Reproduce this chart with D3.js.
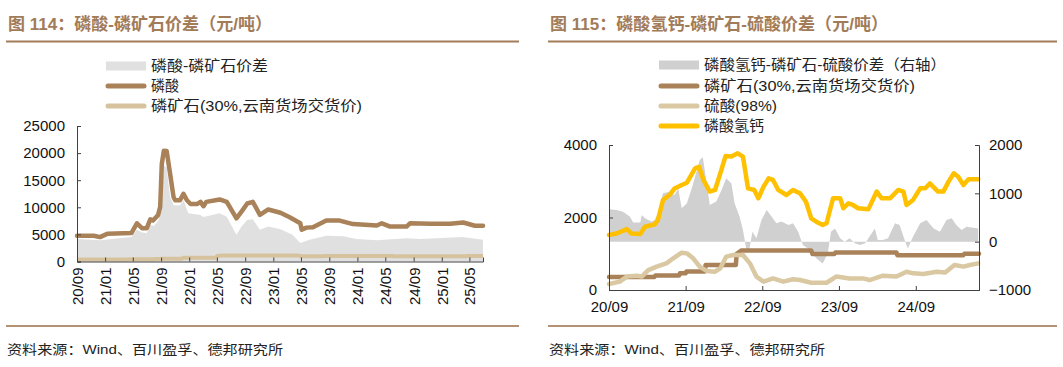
<!DOCTYPE html>
<html><head><meta charset="utf-8">
<script src="https://cdn.jsdelivr.net/npm/d3@7"></script>
<style>body{margin:0;background:#fff}svg{display:block}</style>
</head><body>
<svg id="c" width="1063" height="367"></svg>
<script>
// ---------- DATA ----------
const leftTitle = "图 114：磷酸-磷矿石价差（元/吨）";
const rightTitle = "图 115：磷酸氢钙-磷矿石-硫酸价差（元/吨）";
const sourceText = "资料来源：Wind、百川盈孚、德邦研究所";
const leftLegend = ["磷酸-磷矿石价差", "磷酸", "磷矿石(30%,云南货场交货价)"];
const rightLegend = ["磷酸氢钙-磷矿石-硫酸价差（右轴）", "磷矿石(30%,云南货场交货价)", "硫酸(98%)", "磷酸氢钙"];
const leftXTicks = ["20/09","21/01","21/05","21/09","22/01","22/05","22/09","23/01","23/05","23/09","24/01","24/05","24/09","25/01","25/05"];
const leftYTicks = [0, 5000, 10000, 15000, 20000, 25000];
const rightXTicks = ["20/09","21/09","22/09","23/09","24/09"];
const rightYTicksL = [0, 2000, 4000];
const rightYTicksR = [-1000, 0, 1000, 2000];

// 磷酸
const acid = [["2020-09-01",4750],["2020-11-13",4750],["2020-12-10",4500],["2021-01-10",5100],["2021-04-25",5250],["2021-05-19",7050],["2021-06-10",6150],["2021-07-01",6150],["2021-07-16",7800],["2021-07-28",7550],["2021-08-19",8600],["2021-08-28",10100],["2021-09-04",18000],["2021-09-13",20450],["2021-09-25",20400],["2021-10-10",16200],["2021-10-25",11900],["2021-11-01",11300],["2021-11-22",11300],["2021-12-07",12500],["2021-12-22",11300],["2022-01-07",10600],["2022-02-04",10600],["2022-02-19",11000],["2022-03-04",10200],["2022-03-16",11000],["2022-05-13",11450],["2022-06-13",11000],["2022-07-25",7950],["2022-08-16",9200],["2022-09-10",10700],["2022-10-04",11000],["2022-11-04",8600],["2022-12-10",9600],["2023-02-01",9000],["2023-03-13",8150],["2023-04-28",7050],["2023-05-04",5850],["2023-05-25",6250],["2023-06-22",6300],["2023-08-19",7550],["2023-10-16",7550],["2023-12-13",6900],["2024-03-25",6650],["2024-04-16",7050],["2024-05-22",6450],["2024-08-01",6450],["2024-08-16",7050],["2024-11-13",6950],["2025-02-07",6950],["2025-04-04",7200],["2025-05-25",6600],["2025-06-29",6600]];
// 磷酸-磷矿石价差
const acidSpread = [["2020-09-01",4150],["2020-12-10",3900],["2021-04-25",4500],["2021-05-19",5850],["2021-06-10",5350],["2021-07-01",5250],["2021-07-16",6750],["2021-08-01",6550],["2021-08-22",7650],["2021-09-04",13100],["2021-09-13",17700],["2021-09-25",17300],["2021-10-10",11900],["2021-10-25",10400],["2021-11-22",10400],["2021-12-07",11300],["2021-12-28",8900],["2022-02-19",8600],["2022-03-04",8200],["2022-05-13",8900],["2022-06-13",8250],["2022-07-25",4950],["2022-08-16",6450],["2022-09-10",7650],["2022-10-04",7800],["2022-11-04",5850],["2022-12-10",6450],["2023-02-01",5950],["2023-03-25",4950],["2023-04-28",3400],["2023-06-07",4000],["2023-08-19",4750],["2023-10-31",4650],["2023-12-28",4150],["2024-03-25",3900],["2024-07-31",4300],["2024-09-30",4150],["2025-03-31",4500],["2025-06-29",4000]];
// 磷矿石(30%,云南货场交货价)
const rock = [["2020-09-01",360],["2021-04-05",360],["2021-04-10",400],["2021-08-01",400],["2021-08-05",460],["2021-09-01",460],["2021-09-05",510],["2021-12-01",510],["2021-12-05",690],["2022-04-28",690],["2022-05-02",1000],["2022-05-25",1090],["2023-04-22",1090],["2023-04-28",990],["2023-08-10",990],["2023-08-15",1035],["2024-06-01",1035],["2024-06-05",960],["2025-04-15",960],["2025-04-20",1000],["2025-06-29",1000]];
// 硫酸(98%)
const sulfuric = [["2020-09-01",165],["2020-10-22",230],["2020-11-25",370],["2021-01-10",395],["2021-02-04",370],["2021-03-07",550],["2021-04-16",645],["2021-06-01",735],["2021-07-04",875],["2021-08-13",1030],["2021-09-07",1010],["2021-10-07",875],["2021-11-07",645],["2021-12-10",525],["2022-01-19",505],["2022-02-13",600],["2022-03-13",920],["2022-04-16",965],["2022-06-01",965],["2022-07-04",735],["2022-08-04",370],["2022-09-07",230],["2022-10-22",320],["2022-12-10",230],["2023-01-25",295],["2023-02-28",275],["2023-04-22",200],["2023-07-04",200],["2023-08-19",370],["2023-10-22",320],["2023-12-25",320],["2024-01-25",275],["2024-03-28",395],["2024-06-01",370],["2024-07-19",505],["2024-08-19",460],["2024-10-07",440],["2024-12-10",505],["2025-01-19",480],["2025-03-04",690],["2025-04-16",645],["2025-05-16",690],["2025-06-25",735]];
// 磷酸氢钙
const dcp = [["2020-09-01",1520],["2020-10-07",1560],["2020-11-25",1680],["2020-12-16",1560],["2021-01-28",1545],["2021-02-19",1745],["2021-04-07",1810],["2021-04-22",1930],["2021-05-16",2480],["2021-06-16",2620],["2021-07-10",2800],["2021-08-13",2895],["2021-09-07",2960],["2021-10-16",3355],["2021-11-04",3400],["2021-11-25",3035],["2021-12-25",2715],["2022-01-19",2760],["2022-02-18",3310],["2022-03-10",3695],["2022-04-07",3680],["2022-05-07",3770],["2022-06-01",3680],["2022-06-25",2805],["2022-07-25",2760],["2022-08-13",2530],["2022-09-07",2850],["2022-10-01",3080],["2022-10-22",3035],["2022-11-16",2760],["2022-12-25",2620],["2023-01-25",2760],["2023-02-28",2665],["2023-03-28",2435],["2023-04-22",1975],["2023-05-16",1885],["2023-06-16",1795],["2023-07-04",1840],["2023-08-04",2530],["2023-09-07",2530],["2023-09-22",2255],["2023-10-16",2390],["2023-11-07",2345],["2023-12-01",2255],["2024-01-19",2225],["2024-02-28",2715],["2024-03-22",2530],["2024-05-01",2530],["2024-06-10",2760],["2024-07-04",2715],["2024-07-19",2345],["2024-08-19",2485],["2024-09-22",2805],["2024-10-16",2805],["2024-11-07",2940],["2024-12-16",2715],["2025-01-10",2715],["2025-02-04",2990],["2025-03-01",3220],["2025-03-22",3125],["2025-04-16",2895],["2025-05-10",3055],["2025-06-25",3055]];
// 磷酸氢钙-磷矿石-硫酸价差（右轴）
const dcpSpread = [["2020-09-01",670],["2020-10-07",655],["2020-11-07",620],["2020-12-10",515],["2020-12-25",395],["2021-01-28",395],["2021-02-04",550],["2021-02-19",485],["2021-03-22",415],["2021-04-07",450],["2021-04-22",585],["2021-05-16",1000],["2021-06-16",1035],["2021-07-10",965],["2021-07-28",1100],["2021-08-13",690],["2021-09-07",795],["2021-10-07",1205],["2021-11-07",1690],["2021-11-22",1745],["2021-12-10",1205],["2021-12-25",760],["2022-01-25",830],["2022-02-19",1070],["2022-03-13",1310],["2022-04-07",1205],["2022-04-22",795],["2022-05-16",515],["2022-06-01",240],["2022-06-16",-140],["2022-07-01",-170],["2022-07-16",205],["2022-08-04",70],["2022-08-28",450],["2022-09-22",655],["2022-10-16",515],["2022-11-07",380],["2022-12-01",415],["2023-01-04",345],["2023-01-25",380],["2023-02-19",205],["2023-03-13",-70],["2023-04-16",-170],["2023-05-16",-345],["2023-06-16",-450],["2023-07-10",-240],["2023-07-25",205],["2023-08-13",275],["2023-09-07",70],["2023-09-28",0],["2023-10-22",70],["2023-11-16",-35],["2023-12-10",-70],["2024-01-04",-35],["2024-01-25",105],["2024-02-19",275],["2024-03-04",35],["2024-03-28",35],["2024-04-22",70],["2024-05-25",380],["2024-06-16",345],["2024-07-10",35],["2024-07-25",-140],["2024-08-19",105],["2024-09-22",380],["2024-10-22",450],["2024-11-25",275],["2024-12-25",205],["2025-01-25",450],["2025-02-19",485],["2025-03-13",345],["2025-04-07",240],["2025-05-01",310],["2025-06-25",275]];

// ---------- STYLE ----------
const C = {
  title: "#a27b58", rule: "#a37c5a", foot: "#b39373",
  acid: "#a98259", rockL: "#d6c39e", grayL: "#e0e0e0",
  rockR: "#a98259", sulf: "#d9c8a2", dcp: "#ffc000", grayR: "#d0d0d0", axis: "#404040"
};
const FONT = "'Liberation Sans','Noto Sans CJK SC',sans-serif";
const pd = d3.timeParse("%Y-%m-%d");
const pt = d3.timeParse("%y/%m");
const prep = a => a.map(([d, v]) => ({ d: pd(d), v }));

const svg = d3.select("#c").style("font-family", FONT);

function header(x0, x1, title, tlen) {
  svg.append("text").attr("x", x0 + 2).attr("y", 30).attr("font-size", 17).attr("font-weight", "bold")
    .attr("fill", C.title).attr("textLength", tlen).attr("lengthAdjust", "spacingAndGlyphs").text(title);
  svg.append("line").attr("x1", x0).attr("x2", x1).attr("y1", 41.5).attr("y2", 41.5)
    .attr("stroke", C.rule).attr("stroke-width", 2.2);
  svg.append("line").attr("x1", x0).attr("x2", x1).attr("y1", 326).attr("y2", 326)
    .attr("stroke", C.foot).attr("stroke-width", 2.2);
  svg.append("text").attr("x", x0 + 1).attr("y", 354).attr("font-size", 13).attr("fill", "#222")
    .attr("textLength", 276).attr("lengthAdjust", "spacingAndGlyphs").text(sourceText);
}
function legendRow(x, y, kind, color, label, tlen) {
  if (kind === "rect") {
    svg.append("rect").attr("x", x).attr("y", y - 4.5).attr("width", 40).attr("height", 9).attr("fill", color);
  } else {
    svg.append("line").attr("x1", x + 2).attr("x2", x + 38).attr("y1", y).attr("y2", y)
      .attr("stroke", color).attr("stroke-width", 5).attr("stroke-linecap", "round");
  }
  svg.append("text").attr("x", x + 45).attr("y", y + 5).attr("font-size", 14.5).attr("fill", "#222")
    .attr("textLength", tlen).attr("lengthAdjust", "spacingAndGlyphs").text(label);
}

// ---------- LEFT CHART ----------
header(6, 519, leftTitle, 264);
legendRow(106, 66, "rect", C.grayL, leftLegend[0], 117);
legendRow(106, 86, "line", C.acid, leftLegend[1], 28);
legendRow(106, 106, "line", C.rockL, leftLegend[2], 211);

const xL = d3.scaleTime().domain([pd("2020-09-01"), pd("2025-06-29")]).range([77, 483]);
const yL = d3.scaleLinear().domain([0, 25000]).range([261.5, 126]);
const gL = svg.append("g");
gL.append("path").datum(prep(acidSpread)).attr("fill", C.grayL)
  .attr("d", d3.area().x(d => xL(d.d)).y0(yL(0)).y1(d => yL(d.v)));
gL.append("path").datum(prep(rock)).attr("fill", "none").attr("stroke", C.rockL).attr("stroke-width", 4)
  .attr("stroke-linejoin", "round").attr("d", d3.line().x(d => xL(d.d)).y(d => yL(d.v)));
gL.append("path").datum(prep(acid)).attr("fill", "none").attr("stroke", C.acid).attr("stroke-width", 4.5)
  .attr("stroke-linejoin", "round").attr("stroke-linecap", "round").attr("d", d3.line().x(d => xL(d.d)).y(d => yL(d.v)));

const axL = gL.append("g").attr("transform", "translate(77,0)")
  .call(d3.axisLeft(yL).tickValues(leftYTicks).tickSize(-4).tickPadding(12).tickFormat(d3.format("d")));
const axB = gL.append("g").attr("transform", `translate(0,${yL(0)})`)
  .call(d3.axisBottom(xL).tickValues(leftXTicks.map(pt)).tickSize(-4).tickFormat(d3.timeFormat("%y/%m")));
axB.selectAll("text").attr("transform", "rotate(-90)").attr("text-anchor", "end")
  .attr("x", -6).attr("y", 0).attr("dy", "0.36em");
[axL, axB].forEach(a => {
  a.selectAll("text").attr("font-size", 15).attr("font-family", FONT).attr("fill", "#111");
  a.select(".domain").attr("stroke", C.axis);
  a.selectAll(".tick line").attr("stroke", C.axis);
});

// ---------- RIGHT CHART ----------
header(548, 1057, rightTitle, 338);
legendRow(659, 65, "rect", C.grayR, rightLegend[0], 242);
legendRow(659, 86, "line", C.rockR, rightLegend[1], 211);
legendRow(659, 106, "line", C.sulf, rightLegend[2], 73);
legendRow(659, 126, "line", C.dcp, rightLegend[3], 60);

const xR = d3.scaleTime().domain([pd("2020-09-01"), pd("2025-06-29")]).range([609, 979]);
const yR1 = d3.scaleLinear().domain([0, 4000]).range([290, 145]);
const yR2 = d3.scaleLinear().domain([-1000, 2000]).range([290, 145]);
const gR = svg.append("g");
gR.append("path").datum(prep(dcpSpread)).attr("fill", C.grayR)
  .attr("d", d3.area().x(d => xR(d.d)).y0(yR2(0)).y1(d => yR2(d.v)));
const lineR = d3.line().x(d => xR(d.d)).y(d => yR1(d.v));
[[rock, C.rockR], [sulfuric, C.sulf], [dcp, C.dcp]].forEach(([s, col]) => {
  gR.append("path").datum(prep(s)).attr("fill", "none").attr("stroke", col).attr("stroke-width", 4.5)
    .attr("stroke-linejoin", "round").attr("stroke-linecap", "round").attr("d", lineR);
});
const axR1 = gR.append("g").attr("transform", "translate(609,0)")
  .call(d3.axisLeft(yR1).tickValues(rightYTicksL).tickSize(-4).tickPadding(12).tickFormat(d3.format("d")));
const axR2 = gR.append("g").attr("transform", "translate(979,0)")
  .call(d3.axisRight(yR2).tickValues(rightYTicksR).tickSize(-4).tickPadding(10).tickFormat(d3.format("d")));
const axRB = gR.append("g").attr("transform", "translate(0,290)")
  .call(d3.axisBottom(xR).tickValues(rightXTicks.map(pt)).tickSize(-4).tickPadding(8).tickFormat(d3.timeFormat("%y/%m")));
[axR1, axR2, axRB].forEach(a => {
  a.selectAll("text").attr("font-size", 15).attr("font-family", FONT).attr("fill", "#111");
  a.select(".domain").attr("stroke", C.axis);
  a.selectAll(".tick line").attr("stroke", C.axis);
});
axRB.selectAll("text").attr("dy", "0.9em");
</script>
</body></html>
